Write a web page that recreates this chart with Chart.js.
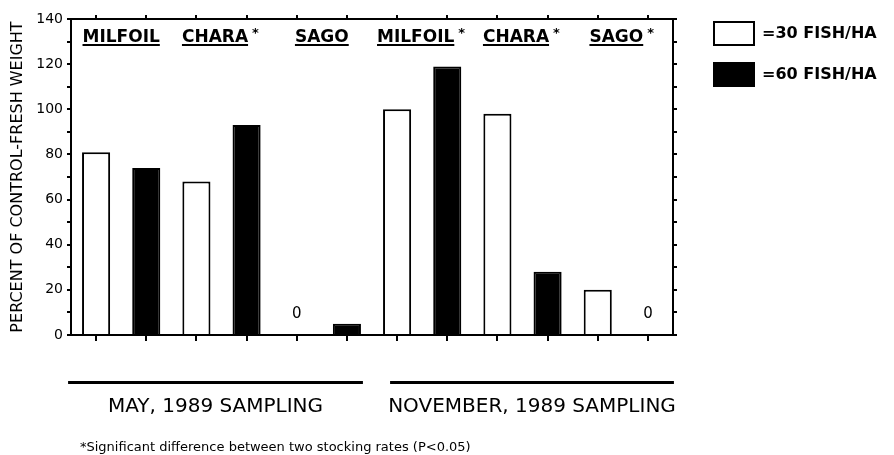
<!DOCTYPE html>
<html>
<head>
<meta charset="UTF-8">
<title>Percent of control - fresh weight</title>
<script src="https://cdn.jsdelivr.net/npm/chart.js@4.4.0/dist/chart.umd.min.js"></script>
<style>
  body { margin: 0; background: #fff; }
  #chart { display: block; }
</style>
</head>
<body>
<canvas id="chart" width="894" height="455"></canvas>
<script>
// one category per bar: plant, sampling, stocking rate
var categories = ['Milfoil May 30', 'Milfoil May 60', 'Chara May 30', 'Chara May 60', 'Sago May 30', 'Sago May 60',
                  'Milfoil Nov 30', 'Milfoil Nov 60', 'Chara Nov 30', 'Chara Nov 60', 'Sago Nov 30', 'Sago Nov 60'];
var fish30 = [81, null, 68, null, 0, null, 100, null, 98, null, 20, null];
var fish60 = [null, 74, null, 93, null, 5, null, 119, null, 28, null, 0];
var plants = ['MILFOIL', 'CHARA', 'SAGO', 'MILFOIL', 'CHARA', 'SAGO'];
var significant = [false, true, false, true, true, true];
var samplings = ['MAY, 1989 SAMPLING', 'NOVEMBER, 1989 SAMPLING'];
var yTicks = [0, 20, 40, 60, 80, 100, 120, 140];
var footnote = '*Significant difference between two stocking rates (P<0.05)';

var FONT = '"DejaVu Sans", sans-serif';

// labels, zero markers, legend and sampling bars
var extras = {
  id: 'extras',
  afterDraw: function(chart) {
    var ctx = chart.ctx;
    var x = chart.scales.x;
    var y = chart.scales.y;
    ctx.save();
    ctx.fillStyle = '#000';
    ctx.strokeStyle = '#000';

    // plant names at top of plot
    ctx.textBaseline = 'alphabetic';
    ctx.textAlign = 'left';
    plants.forEach(function(p, i) {
      var cx = (x.getPixelForValue(2 * i) + x.getPixelForValue(2 * i + 1)) / 2;
      ctx.font = 'bold 17px ' + FONT;
      var w = ctx.measureText(p).width;
      var total = w + (significant[i] ? 13 : 0);
      var sx = cx - total / 2;
      ctx.fillText(p, sx, 42);
      ctx.fillRect(sx, 44, w, 2);
      if (significant[i]) {
        ctx.font = 'bold 13px ' + FONT;
        ctx.fillText('*', sx + w + 4, 37);
      }
    });

    // "0" above empty bars
    ctx.font = '15px ' + FONT;
    ctx.textAlign = 'center';
    ctx.textBaseline = 'middle';
    chart.data.datasets.forEach(function(ds) {
      ds.data.forEach(function(v, i) {
        if (v === 0) ctx.fillText('0', x.getPixelForValue(i), y.getPixelForValue(0) - 21);
      });
    });

    // sampling underlines and names
    var half = [[0, 5], [6, 11]];
    half.forEach(function(h, k) {
      var l = x.getPixelForValue(h[0]) - 25;
      var r = x.getPixelForValue(h[1]) + 25;
      var x0 = k === 0 ? l - 3 : l + 18;
      var x1 = k === 0 ? r - 9 : r + 1;
      ctx.fillRect(x0, 381, x1 - x0, 3);
      ctx.font = '20px ' + FONT;
      ctx.fillText(samplings[k], (x0 + x1) / 2, 407);
    });

    // footnote
    ctx.font = '13px ' + FONT;
    ctx.textAlign = 'left';
    ctx.fillText(footnote, 80, 448);

    // legend
    ctx.font = 'bold 16px ' + FONT;
    chart.data.datasets.forEach(function(ds, i) {
      var top = i === 0 ? 21 : 62;
      ctx.fillStyle = ds.backgroundColor;
      ctx.fillRect(713, top, 42, 25);
      ctx.lineWidth = 2;
      ctx.strokeRect(714, top + 1, 40, 23);
      ctx.fillStyle = '#000';
      ctx.fillText(ds.label, 762, top + 13);
    });
    ctx.restore();
  }
};

var ctx = document.getElementById('chart').getContext('2d');
var myChart = new Chart(ctx, {
  type: 'bar',
  data: {
    labels: categories,
    datasets: [{
      label: '=30 FISH/HA',
      data: fish30,
      backgroundColor: '#ffffff',
      borderColor: '#000000',
      borderWidth: function(c) { return c.raw === 0 ? 0 : 2; }
    }, {
      label: '=60 FISH/HA',
      data: fish60,
      backgroundColor: '#000000',
      borderColor: '#000000',
      borderWidth: function(c) { return c.raw === 0 ? 0 : 2; }
    }]
  },
  options: {
    responsive: false,
    animation: false,
    grouped: false,
    barPercentage: 0.56,
    categoryPercentage: 1.0,
    layout: { padding: 0 },
    plugins: { legend: { display: false }, tooltip: { enabled: false } },
    scales: {
      x: {
        position: 'bottom',
        offset: true,
        ticks: { display: false },
        grid: { drawOnChartArea: false, offset: false, tickLength: 6, color: '#000', lineWidth: 2 },
        border: { color: '#000', width: 2 },
        afterFit: function(s) { s.height = 120; }
      },
      x2: {
        type: 'category',
        position: 'top',
        offset: true,
        ticks: { display: false },
        grid: { drawOnChartArea: false, offset: false, tickLength: 4, color: '#000', lineWidth: 2 },
        border: { color: '#000', width: 2 },
        afterFit: function(s) { s.height = 19; }
      },
      y: {
        position: 'left',
        min: 0,
        max: 140,
        ticks: {
          stepSize: 10,
          color: '#000',
          padding: 4,
          font: { family: FONT, size: 14 },
          callback: function(v) { return yTicks.indexOf(v) >= 0 ? v : ''; }
        },
        grid: { drawOnChartArea: false, tickLength: 4, color: '#000', lineWidth: 2 },
        border: { color: '#000', width: 2 },
        title: {
          display: true,
          text: 'PERCENT OF CONTROL-FRESH WEIGHT',
          color: '#000',
          font: { family: FONT, size: 16 },
          padding: { top: 8, bottom: 0 }
        },
        afterFit: function(s) { s.width = 71; }
      },
      y2: {
        position: 'right',
        min: 0,
        max: 140,
        ticks: { stepSize: 10, display: false },
        grid: { drawOnChartArea: false, tickLength: 4, color: '#000', lineWidth: 2 },
        border: { color: '#000', width: 2 },
        afterFit: function(s) { s.width = 221; }
      }
    }
  },
  plugins: [extras]
});
</script>
</body>
</html>
